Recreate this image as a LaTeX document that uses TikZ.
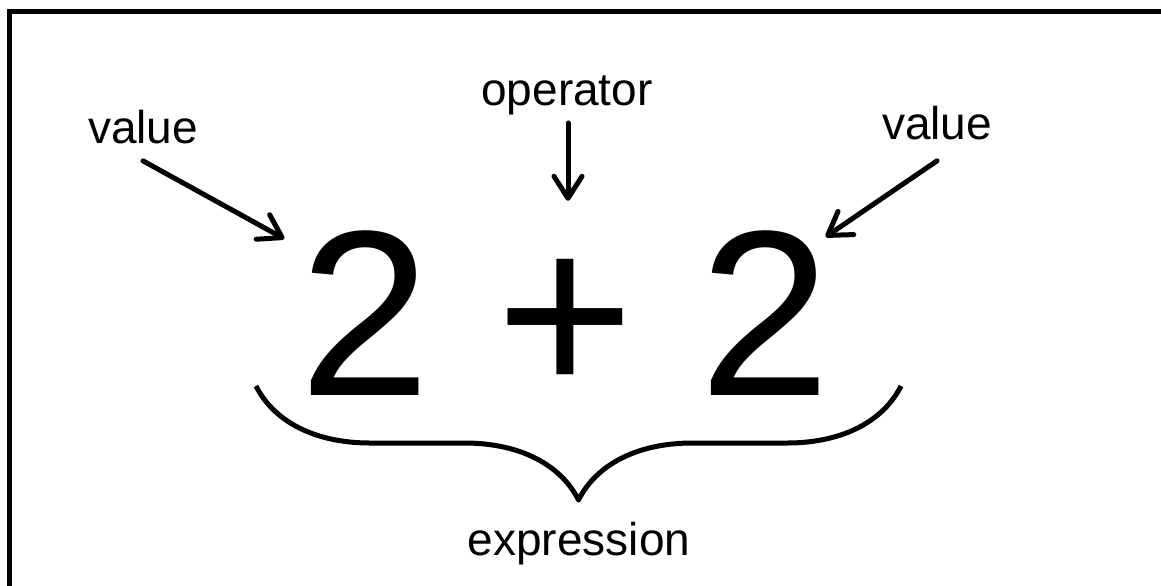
\documentclass[tikz,border=0pt]{standalone}
\usepackage{fontspec}
\setmainfont{Liberation Sans}
\usetikzlibrary{arrows.meta,decorations.pathreplacing}

\begin{document}
\begin{tikzpicture}[x=0.5pt,y=-0.5pt,>={Straight Barb[length=11pt,width=14pt,round]},
  word/.style={font=\fontsize{23}{28}\selectfont,inner sep=0pt,anchor=base},
  pointer/.style={->,line width=2.5pt,line cap=round}]
  \useasboundingbox (0,0) rectangle (1161,585);
  \fill[white] (0,0) rectangle (1161,585);
  \draw[line width=2.5pt] (9.5,11.5) rectangle (1163,600);
  \node[word] (valL) at (143,143) {value};
  \node[word] (oper) at (567,105) {operator};
  \node[word] (valR) at (937,139) {value};
  \node[word,font=\fontsize{118}{140}\selectfont] (sum) at (565.5,395) {2 + 2};
  \draw[pointer] ([shift={(0,17)}]valL.south) -- ([shift={(-15,9)}]sum.north west);
  \draw[pointer] ([shift={(1,8)}]oper.south) -- ([shift={(2.5,-29)}]sum.north);
  \draw[pointer] ([shift={(0,21)}]valR.south) -- ([shift={(-6,7)}]sum.north east);
  \draw[line width=2.5pt,line join=round,decorate,decoration={brace,mirror,amplitude=57pt}] (256,386) -- (901,386);
  \node[word] (expr) at (579,555) {expression};
\end{tikzpicture}
\end{document}
